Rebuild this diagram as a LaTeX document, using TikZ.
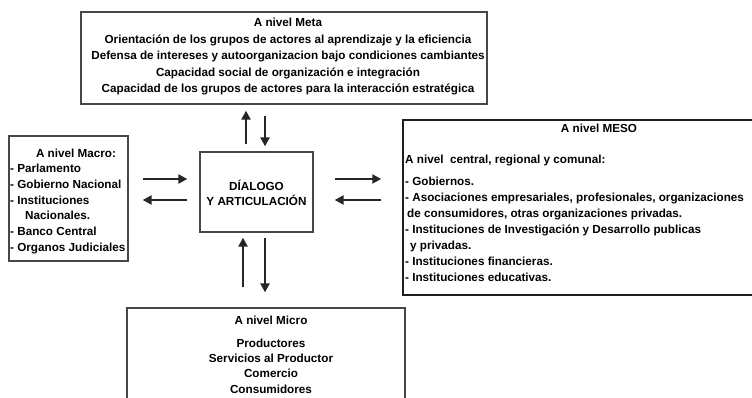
\documentclass[tikz,border=0pt]{standalone}
\usepackage{fontspec}
\setmainfont{Liberation Sans}
\usetikzlibrary{arrows.meta,calc}
\begin{document}
\begin{tikzpicture}[x=1pt,y=-1pt,
  box/.style={draw=black!72, line width=1.3pt, inner sep=0pt},
  txt/.style={font=\fontsize{11.7}{16.5}\selectfont\bfseries, inner sep=0pt},
  arr/.style={draw=black!85, line width=2.8pt, -{Triangle[length=9pt,width=9pt]}}]
\useasboundingbox (0,0) rectangle (752,398);
\clip (0,0) rectangle (752,398);
% boxes
\node[box, minimum width=406pt, minimum height=92pt] (meta) at (284,58) {};
\node[box, minimum width=119pt, minimum height=125pt] (macro) at (68.5,198.5) {};
\node[box, minimum width=113pt, minimum height=80pt] (dialogo) at (256.5,192) {};
\node[box, draw=black!88, line width=1.5pt, minimum width=497pt, minimum height=175pt] (meso) at (651.5,207.5) {};
\node[box, minimum width=278pt, minimum height=100pt] (micro) at (266,358) {};
% texts
\node[txt, align=center] (metatxt) at (288,57) {A nivel Meta\\Orientación de los grupos de actores al aprendizaje y la eficiencia\\Defensa de intereses y autoorganizacion bajo condiciones cambiantes\\Capacidad social de organización e integración\\Capacidad de los grupos de actores para la interacción estratégica};
\node[txt] (macrotit) at (76,153) {A nivel Macro:};
\node[txt, align=left, anchor=west, font=\fontsize{11.7}{15.8}\selectfont\bfseries] (macrolist) at (10,209) {- Parlamento\\- Gobierno Nacional\\- Instituciones\\\hspace*{15pt}Nacionales.\\- Banco Central\\- Organos Judiciales};
\node[txt, align=center, font=\fontsize{11.7}{15}\selectfont\bfseries] (dlgtxt) at (256.5,192.5) {DÍALOGO\\Y ARTICULACIÓN};
\node[txt] (mesotit) at (599,128) {A nivel MESO};
\node[txt, anchor=west] (mesosub) at (405,161) {A nivel\ \ central, regional y comunal:};
\node[txt, align=left, anchor=west, font=\fontsize{11.7}{16}\selectfont\bfseries] (mesolist) at (405,229) {- Gobiernos.\\- Asociaciones empresariales, profesionales, organizaciones\\\hspace*{2pt}de consumidores, otras organizaciones privadas.\\- Instituciones de Investigación y Desarrollo publicas\\\hspace*{5pt}y privadas.\\- Instituciones financieras.\\- Instituciones educativas.};
\node[txt] (microtit) at (271,320) {A nivel Micro};
\node[txt, align=center, font=\fontsize{11.7}{15.3}\selectfont\bfseries] (microlist) at (271,366) {Productores\\Servicios al Productor\\Comercio\\Consumidores};
% arrows
\draw[arr, shorten <=14pt, shorten >=12pt] ($(macro.east |- dialogo.west)+(0,-13)$) -- ($(dialogo.west)+(0,-13)$);
\draw[arr, shorten <=12pt, shorten >=14pt] ($(dialogo.west)+(0,8)$) -- ($(macro.east |- dialogo.west)+(0,8)$);
\draw[arr, shorten <=21pt, shorten >=21pt] ($(dialogo.east)+(0,-13)$) -- ($(meso.west |- dialogo.east)+(0,-13)$);
\draw[arr, shorten <=21pt, shorten >=21pt] ($(meso.west |- dialogo.east)+(0,8)$) -- ($(dialogo.east)+(0,8)$);
\draw[arr, shorten <=7pt, shorten >=6pt] ($(dialogo.north)+(-10.5,0)$) -- ($(meta.south -| dialogo.north)+(-10.5,0)$);
\draw[arr, shorten <=11pt, shorten >=5pt] ($(meta.south -| dialogo.north)+(8.5,0)$) -- ($(dialogo.north)+(8.5,0)$);
\draw[arr, shorten <=20pt, shorten >=5pt] ($(micro.north -| dialogo.south)+(-13.5,0)$) -- ($(dialogo.south)+(-13.5,0)$);
\draw[arr, shorten <=5pt, shorten >=15pt] ($(dialogo.south)+(8.5,0)$) -- ($(micro.north -| dialogo.south)+(8.5,0)$);
\end{tikzpicture}
\end{document}
